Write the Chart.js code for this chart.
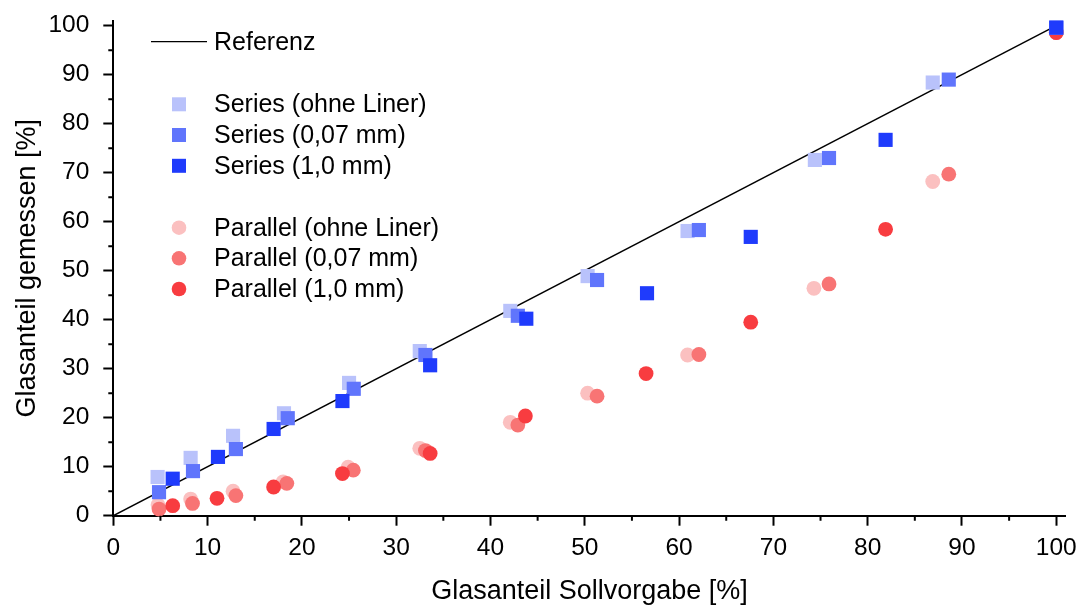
<!DOCTYPE html>
<html>
<head>
<meta charset="utf-8">
<script src="https://cdn.jsdelivr.net/npm/chart.js@4"></script>
<style>
  body { margin: 0; background: #fff; }
  #wrap { width: 1083px; height: 608px; }
</style>
</head>
<body>
<div id="wrap"><canvas id="glas"></canvas></div>
<script>
const labels = [
  'Referenz',
  'Series (ohne Liner)', 'Series (0,07 mm)', 'Series (1,0 mm)',
  'Parallel (ohne Liner)', 'Parallel (0,07 mm)', 'Parallel (1,0 mm)'
];
const tickValues = [0, 10, 20, 30, 40, 50, 60, 70, 80, 90, 100];
const minorTicks = [5, 15, 25, 35, 45, 55, 65, 75, 85, 95];

const refX = [0, 100];
const refY = [0, 100];

const seriesOhneX = [4.7, 8.2, 12.7, 18.1, 25.0, 32.5, 42.1, 50.3, 60.9, 74.4, 86.9, 100];
const seriesOhneY = [7.9, 11.8, 16.3, 20.9, 27.1, 33.6, 41.8, 48.9, 58.1, 72.6, 88.4, 99.6];
const series007X = [4.85, 8.45, 13.0, 18.5, 25.5, 33.1, 42.9, 51.3, 62.1, 75.9, 88.6, 100];
const series007Y = [4.8, 9.1, 13.6, 19.9, 25.9, 32.8, 40.8, 48.1, 58.3, 73.0, 89.0, 99.6];
const series10X = [6.3, 11.1, 17.0, 24.3, 33.6, 43.8, 56.6, 67.6, 81.9, 100];
const series10Y = [7.55, 12.0, 17.7, 23.4, 30.7, 40.2, 45.4, 56.9, 76.7, 99.6];

const parOhneX = [4.74, 8.2, 12.7, 18.0, 24.9, 32.5, 42.1, 50.3, 60.9, 74.3, 86.9, 100];
const parOhneY = [2.2, 3.4, 5.0, 6.9, 9.9, 13.75, 19.06, 25.0, 32.8, 46.4, 68.2, 98.6];
const par007X = [4.85, 8.4, 13.0, 18.4, 25.45, 33.1, 42.9, 51.3, 62.1, 75.9, 88.6, 100];
const par007Y = [1.35, 2.5, 4.1, 6.6, 9.3, 13.3, 18.5, 24.4, 32.9, 47.3, 69.7, 98.6];
const par10X = [6.3, 11.0, 17.0, 24.3, 33.6, 43.7, 56.5, 67.6, 81.9, 100];
const par10Y = [2.05, 3.55, 5.86, 8.6, 12.7, 20.35, 29.0, 39.5, 58.45, 98.6];

const colors = ['#000000', '#b9c2fb', '#6075fc', '#1f3bfc', '#fbc0c0', '#f87474', '#f83c40'];

function pts(xs, ys) {
  return xs.map((x, i) => ({ x: x, y: ys[i] }));
}

const FONT = 'Liberation Sans, Arial, sans-serif';

function scatterSet(i, xs, ys, style, order) {
  return {
    type: 'scatter',
    label: labels[i],
    data: pts(xs, ys),
    pointStyle: style,
    pointRadius: style === 'rect' ? 10 : 7.4,
    pointHoverRadius: style === 'rect' ? 10 : 7.4,
    pointBorderWidth: 0,
    backgroundColor: colors[i],
    borderColor: colors[i],
    order: order,
    clip: false
  };
}

// minor ticks (5, 15, ...) drawn short, like the original
const minorTickPlugin = {
  id: 'minorTicks',
  afterDraw(chart) {
    const { ctx, scales: { x, y } } = chart;
    ctx.save();
    ctx.strokeStyle = '#000';
    ctx.lineWidth = 2;
    ctx.beginPath();
    minorTicks.forEach(v => {
      const px = x.getPixelForValue(v);
      ctx.moveTo(px, x.top);
      ctx.lineTo(px, x.top + 5);
      const py = y.getPixelForValue(v);
      ctx.moveTo(y.right, py);
      ctx.lineTo(y.right - 5, py);
    });
    ctx.stroke();
    ctx.restore();
  }
};

// legend with group gaps, drawn inside the plot
const legendPlugin = {
  id: 'groupLegend',
  afterDraw(chart) {
    const ctx = chart.ctx;
    const rows = [41.7, 104.3, 135, 165.8, 227.7, 258.3, 289];
    ctx.save();
    ctx.font = '25px ' + FONT;
    ctx.textBaseline = 'middle';
    ctx.textAlign = 'left';
    rows.forEach((ry, i) => {
      ctx.fillStyle = colors[i];
      if (i === 0) {
        ctx.strokeStyle = colors[0];
        ctx.lineWidth = 1.2;
        ctx.beginPath();
        ctx.moveTo(151, ry);
        ctx.lineTo(207, ry);
        ctx.stroke();
      } else if (i < 4) {
        ctx.fillRect(172, ry - 7, 14, 14);
      } else {
        ctx.beginPath();
        ctx.arc(179, ry, 7.3, 0, Math.PI * 2);
        ctx.fill();
      }
      ctx.fillStyle = '#000';
      ctx.fillText(labels[i], 214, ry + 1);
    });
    ctx.restore();
  }
};

function axis(title) {
  return {
    type: 'linear',
    min: 0,
    max: 101,
    afterBuildTicks(scale) {
      scale.ticks = tickValues.map(v => ({ value: v }));
    },
    ticks: {
      color: '#000',
      font: { family: FONT, size: 24.5 },
      padding: 14
    },
    grid: {
      display: true,
      drawOnChartArea: false,
      drawTicks: true,
      tickLength: 10,
      tickWidth: 2,
      tickColor: '#000'
    },
    border: { display: true, color: '#000', width: 2 },
    title: {
      display: true,
      text: title,
      color: '#000',
      font: { family: FONT, size: 27 },
      padding: { top: 11, bottom: 0 }
    }
  };
}

// fixed plot box: no extra label padding around the axes
const xAxis = axis('Glasanteil Sollvorgabe [%]');
xAxis.position = 'bottom';
xAxis.ticks.padding = 8;
xAxis.afterFit = s => {
  s.height = 92.3;
  s.paddingLeft = 0;
  s.paddingRight = 0;
};
const yAxis = axis('Glasanteil gemessen [%]');
yAxis.position = 'left';
yAxis.afterFit = s => {
  s.width = 113.3;
  s.paddingTop = 0;
  s.paddingBottom = 0;
};

new Chart(document.getElementById('glas'), {
  type: 'scatter',
  plugins: [minorTickPlugin, legendPlugin],
  data: {
    datasets: [
      {
        type: 'line',
        label: labels[0],
        data: pts(refX, refY),
        borderColor: colors[0],
        borderWidth: 1.5,
        pointRadius: 0,
        fill: false,
        order: 10
      },
      scatterSet(1, seriesOhneX, seriesOhneY, 'rect', 3),
      scatterSet(2, series007X, series007Y, 'rect', 2),
      scatterSet(3, series10X, series10Y, 'rect', 1),
      scatterSet(4, parOhneX, parOhneY, 'circle', 6),
      scatterSet(5, par007X, par007Y, 'circle', 5),
      scatterSet(6, par10X, par10Y, 'circle', 4)
    ]
  },
  options: {
    responsive: true,
    maintainAspectRatio: false,
    animation: false,
    layout: { padding: { top: 20.8, right: 17.3, left: 0, bottom: 0 } },
    scales: { x: xAxis, y: yAxis },
    plugins: {
      legend: { display: false },
      tooltip: { enabled: false }
    }
  }
});
</script>
</body>
</html>
